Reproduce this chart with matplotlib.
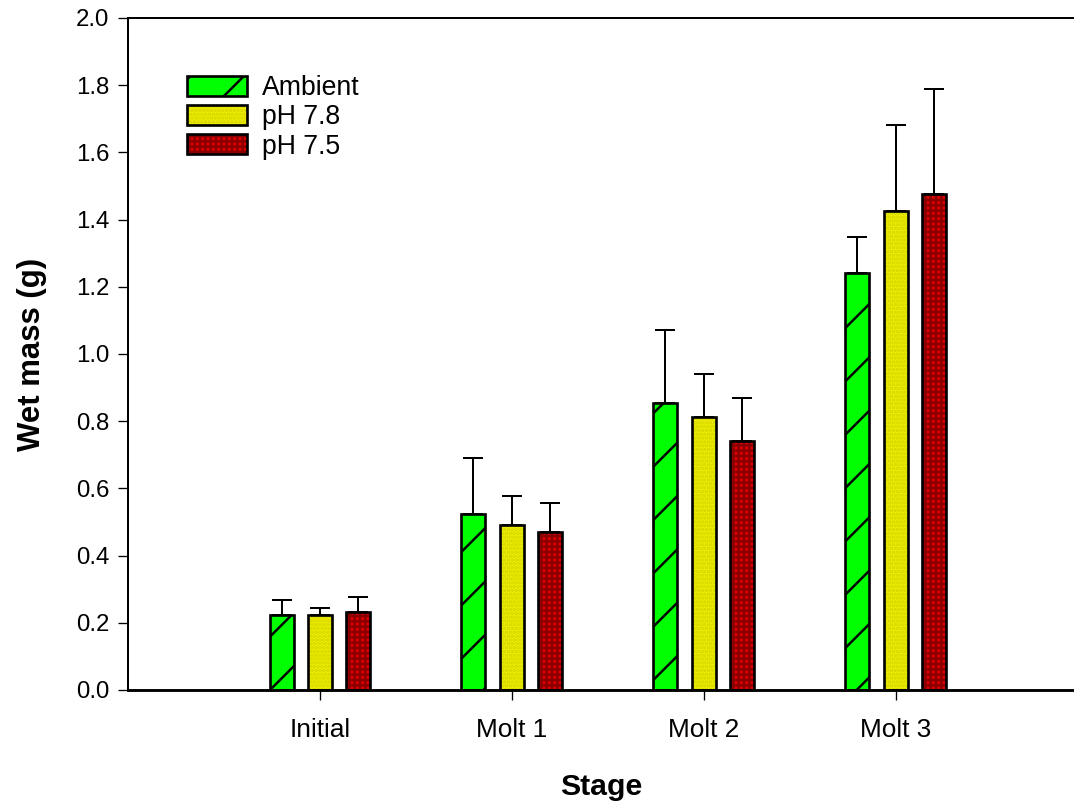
import matplotlib
matplotlib.use("Agg")
import matplotlib.pyplot as plt
import numpy as np

plt.rcParams['font.family'] = ['Liberation Sans', 'DejaVu Sans']
plt.rcParams['hatch.linewidth'] = 1.1

# Masa húmeda por estadio (media y límite superior del error)
stages = ["Initial", "Molt 1", "Molt 2", "Molt 3"]
ambient = [0.222, 0.525, 0.853, 1.240]
ambient_top = [0.267, 0.689, 1.072, 1.348]
ph78 = [0.222, 0.490, 0.812, 1.425]
ph78_top = [0.243, 0.576, 0.940, 1.681]
ph75 = [0.231, 0.470, 0.740, 1.475]
ph75_top = [0.277, 0.557, 0.870, 1.789]

DPI = 160
fig = plt.figure(figsize=(1074 / DPI, 804 / DPI), dpi=DPI)
ax = fig.add_axes([128 / 1074, 1 - 690 / 804, 1 - 128 / 1074, (690 - 18) / 804])

x = np.arange(len(stages))
width = 0.125
offset = 0.2

series = [
    ("Ambient", ambient, ambient_top, '#00ff00', 'black', '/'),
    ("pH 7.8", ph78, ph78_top, '#eeee00', '#d4d400', '.......'),
    ("pH 7.5", ph75, ph75_top, '#dd0000', '#8a0000', '+++++'),
]

handles = []
labels = []
for i, (name, vals, tops, face, hcol, hatch) in enumerate(series):
    pos = x + (i - 1) * offset
    vals = np.array(vals)
    err = np.array(tops) - vals
    # barras de error solo hacia arriba
    ax.errorbar(pos, vals, yerr=[np.zeros_like(err), err], fmt='none',
                ecolor='black', elinewidth=0.9, capsize=4.3, capthick=0.9, zorder=1)
    filled = ax.bar(pos, vals, width, color=face, edgecolor=hcol, hatch=hatch,
                    linewidth=0, zorder=2)
    outline = ax.bar(pos, vals, width, fill=False, edgecolor='black',
                     linewidth=1.2, zorder=3)
    handles.append((filled[0], outline[0]))
    labels.append(name)

ax.set_xlim(-1.0, 3.93)
ax.set_ylim(0, 2.0)
ax.set_xticks(x)
ax.set_xticklabels(stages)
ax.set_yticks(np.arange(0, 2.01, 0.2))
ax.set_yticklabels([f"{v:.1f}" for v in np.arange(0, 2.01, 0.2)])
ax.tick_params(length=4.5, width=0.6, direction='out')
ax.tick_params(axis='x', labelsize=11.8, pad=8)
ax.tick_params(axis='y', labelsize=10.8, pad=4)

ax.spines['right'].set_visible(False)
for s in ['left', 'top']:
    ax.spines[s].set_linewidth(0.9)
ax.spines['bottom'].set_linewidth(1.3)

ax.set_xlabel("Stage", fontsize=13.6, fontweight='bold', labelpad=14)
ax.set_ylabel("Wet mass (g)", fontsize=14, fontweight='bold', labelpad=13)

ax.legend(handles, labels, loc='upper left', bbox_to_anchor=(0.0624, 0.915),
          frameon=False, fontsize=12, handlelength=2.25, handleheight=0.75,
          handletextpad=0.55, labelspacing=0.12, borderpad=0, borderaxespad=0)

fig.savefig("out.png", dpi=DPI)
